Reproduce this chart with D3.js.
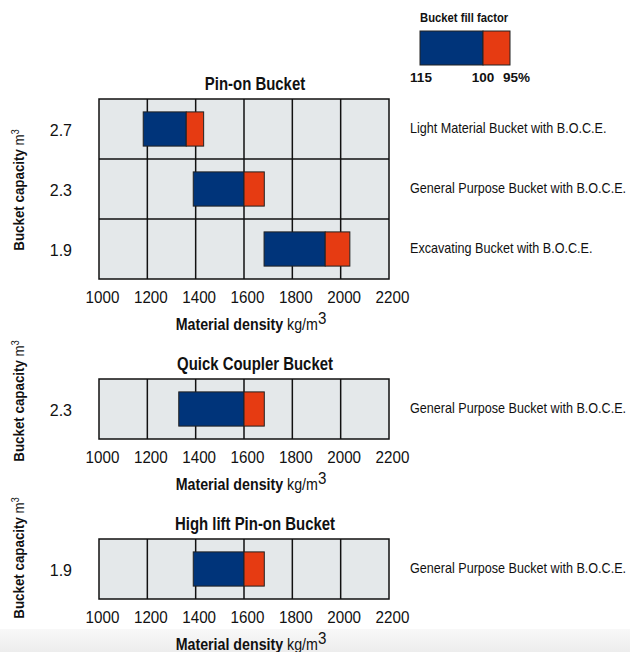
<!DOCTYPE html>
<html>
<head>
<meta charset="utf-8">
<script src="https://cdn.jsdelivr.net/npm/d3@7/dist/d3.min.js"></script>
<style>
  body { margin: 0; background: #fff; }
  text { font-family: 'Liberation Sans', Arial, sans-serif; fill: #111; }
</style>
</head>
<body>
<div id="chartDiv"></div>
<script>
// data
const densityTicks = [1000, 1200, 1400, 1600, 1800, 2000, 2200];
const fillLabels = ["115", "100", "95%"];

// Pin-on bucket
const pinOnCaps = ["2.7", "2.3", "1.9"];
const pinOnNames = ["Light Material Bucket with B.O.C.E.", "General Purpose Bucket with B.O.C.E.", "Excavating Bucket with B.O.C.E."];
const pinOnAt115 = [1183, 1390, 1683];
const pinOnAt100 = [1361, 1600, 1936];
const pinOnAt95 = [1433, 1684, 2038];

// Quick coupler bucket
const quickCaps = ["2.3"];
const quickNames = ["General Purpose Bucket with B.O.C.E."];
const quickAt115 = [1330];
const quickAt100 = [1600];
const quickAt95 = [1684];

// High lift pin-on bucket
const highCaps = ["1.9"];
const highNames = ["General Purpose Bucket with B.O.C.E."];
const highAt115 = [1390];
const highAt100 = [1600];
const highAt95 = [1684];

const width = 630, height = 652;
const blue = "#00347a", red = "#e63b12", cell = "#e4e8ea";
const rowH = 60;

const svg = d3.select("#chartDiv")
    .append("svg")
    .attr("width", width)
    .attr("height", height);

// condensed look: squeeze text horizontally around its anchor
function label(parent, x, y, k) {
    return parent.append("text")
        .attr("transform", "translate(" + x + "," + y + ") scale(" + k + ",1)");
}

// grey page edge at the bottom
const grad = svg.append("defs").append("linearGradient")
    .attr("id", "edge").attr("x1", 0).attr("x2", 0).attr("y1", 0).attr("y2", 1);
grad.append("stop").attr("offset", 0).attr("stop-color", "#f8f8f8");
grad.append("stop").attr("offset", 1).attr("stop-color", "#ededed");
svg.append("rect").attr("x", 0).attr("y", 629).attr("width", width).attr("height", 23)
    .attr("fill", "url(#edge)");

const x = d3.scaleLinear().domain([1000, 2200]).range([99, 389]);

const panels = [
    {title: "Pin-on Bucket", caps: pinOnCaps, names: pinOnNames, lo: pinOnAt115, mid: pinOnAt100, hi: pinOnAt95, top: 99, yTitle: 190},
    {title: "Quick Coupler Bucket", caps: quickCaps, names: quickNames, lo: quickAt115, mid: quickAt100, hi: quickAt95, top: 379, yTitle: 401},
    {title: "High lift Pin-on Bucket", caps: highCaps, names: highNames, lo: highAt115, mid: highAt100, hi: highAt95, top: 539, yTitle: 558}
];

panels.forEach(p => {
    const g = svg.append("g");
    const y = d3.scaleBand()
        .domain(p.caps)
        .range([p.top, p.top + rowH * p.caps.length]);
    const bottom = y.range()[1];
    const barH = y.bandwidth() * 0.57;

    // cell background
    g.append("rect")
        .attr("x", x(1000)).attr("y", p.top)
        .attr("width", x(2200) - x(1000)).attr("height", bottom - p.top)
        .attr("fill", cell);

    // vertical grid
    g.selectAll(".vg")
        .data(densityTicks.slice(1, -1))
        .enter().append("line")
        .attr("x1", d => x(d)).attr("x2", d => x(d))
        .attr("y1", p.top).attr("y2", bottom)
        .attr("stroke", "#111").attr("stroke-width", 1.5);

    // horizontal grid
    g.selectAll(".hg")
        .data(p.caps.slice(1))
        .enter().append("line")
        .attr("x1", x(1000)).attr("x2", x(2200))
        .attr("y1", d => y(d)).attr("y2", d => y(d))
        .attr("stroke", "#111").attr("stroke-width", 1.5);

    // bars: blue = 115% .. 100% fill, red = 100% .. 95% fill
    const rows = p.caps.map((c, i) => ({cap: c, lo: p.lo[i], mid: p.mid[i], hi: p.hi[i]}));
    g.selectAll(".blue")
        .data(rows)
        .enter().append("rect")
        .attr("x", d => x(d.lo))
        .attr("y", d => y(d.cap) + (y.bandwidth() - barH) / 2)
        .attr("width", d => x(d.mid) - x(d.lo))
        .attr("height", barH)
        .attr("fill", blue).attr("stroke", "#222").attr("stroke-width", 1);
    g.selectAll(".red")
        .data(rows)
        .enter().append("rect")
        .attr("x", d => x(d.mid))
        .attr("y", d => y(d.cap) + (y.bandwidth() - barH) / 2)
        .attr("width", d => x(d.hi) - x(d.mid))
        .attr("height", barH)
        .attr("fill", red).attr("stroke", "#222").attr("stroke-width", 1);

    // frame
    g.append("rect")
        .attr("x", x(1000)).attr("y", p.top)
        .attr("width", x(2200) - x(1000)).attr("height", bottom - p.top)
        .attr("fill", "none").attr("stroke", "#111").attr("stroke-width", 1.5);

    // title
    label(g, 255, p.top - 9, 0.83)
        .attr("text-anchor", "middle")
        .style("font-size", "18px").style("font-weight", "bold")
        .text(p.title);

    // x axis
    const xa = g.append("g")
        .attr("transform", "translate(3," + bottom + ")")
        .call(d3.axisBottom(x).tickValues(densityTicks).tickFormat(d3.format("d")).tickSize(0).tickPadding(13));
    xa.select(".domain").remove();
    xa.selectAll("text")
        .attr("transform", "scale(0.95,1)")
        .style("font-size", "16px").attr("fill", "#111");

    const xt = label(g, 251, bottom + 51, 0.89)
        .attr("text-anchor", "middle")
        .style("font-size", "16px");
    xt.append("tspan").style("font-weight", "bold").text("Material density");
    xt.append("tspan").text(" kg/m");
    xt.append("tspan").attr("dy", -6).style("font-size", "17px").text("3");

    // y axis
    const ya = g.append("g")
        .attr("transform", "translate(72,0)")
        .call(d3.axisLeft(y).tickSize(0).tickPadding(0));
    ya.select(".domain").remove();
    ya.selectAll("text").style("font-size", "16px").attr("fill", "#111").attr("dy", "0.45em");

    const yt = g.append("text")
        .attr("transform", "translate(24," + p.yTitle + ") rotate(-90) scale(0.89,1)")
        .attr("text-anchor", "middle")
        .style("font-size", "15px");
    yt.append("tspan").style("font-weight", "bold").text("Bucket capacity");
    yt.append("tspan").text(" m");
    yt.append("tspan").attr("dy", -5).style("font-size", "10px").text("3");

    // bucket names on the right
    const ra = g.append("g")
        .attr("transform", "translate(410,0)")
        .call(d3.axisRight(y).tickSize(0).tickPadding(0).tickFormat((d, i) => p.names[i]));
    ra.select(".domain").remove();
    ra.selectAll("text")
        .attr("transform", "scale(0.9,1)")
        .style("font-size", "14px").attr("fill", "#111");
});

// legend
const lx = d3.scaleOrdinal().domain(fillLabels).range([420, 483, 510]);
const lg = svg.append("g");
label(lg, 420, 22, 0.835)
    .style("font-size", "13.5px").style("font-weight", "bold")
    .text("Bucket fill factor");
lg.append("rect")
    .attr("x", lx("115")).attr("y", 31)
    .attr("width", lx("100") - lx("115")).attr("height", 34)
    .attr("fill", blue).attr("stroke", "#222").attr("stroke-width", 1);
lg.append("rect")
    .attr("x", lx("100")).attr("y", 31)
    .attr("width", lx("95%") - lx("100")).attr("height", 34)
    .attr("fill", red).attr("stroke", "#222").attr("stroke-width", 1);
lg.selectAll(".fl")
    .data(fillLabels)
    .enter().append("text")
    .attr("x", d => lx(d))
    .attr("y", 82)
    .attr("text-anchor", (d, i) => i === 2 ? "start" : "middle")
    .attr("dx", (d, i) => [1, 0, -7][i])
    .style("font-size", "13.5px").style("font-weight", "bold")
    .text(d => d);
</script>
</body>
</html>
